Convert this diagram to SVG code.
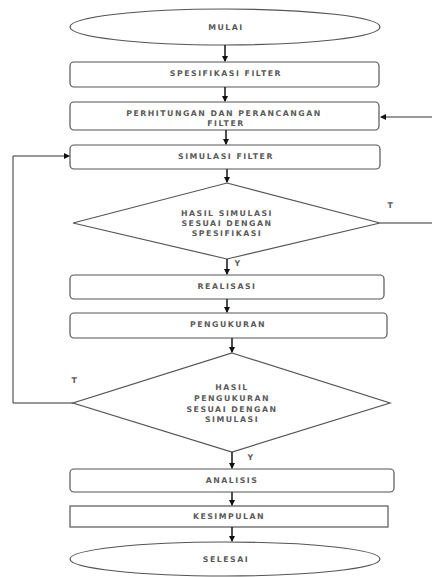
<svg xmlns="http://www.w3.org/2000/svg" width="432" height="577" viewBox="0 0 432 577">
<style>
.s{fill:#fff;stroke:#555;stroke-width:1.2}
.t{font-family:"DejaVu Sans","Liberation Sans",sans-serif;font-size:7.8px;font-weight:bold;fill:#5a5a5a;text-anchor:middle;letter-spacing:1.5px}
.c{fill:none;stroke:#222;stroke-width:1.6}
.cl{fill:none;stroke:#333;stroke-width:1}
</style>
<defs>
<marker id="ah" markerWidth="6" markerHeight="6" refX="5" refY="3" orient="auto" markerUnits="userSpaceOnUse">
<path d="M0,0 L6,3 L0,6 z" fill="#111"/>
</marker>
</defs>
<rect width="432" height="577" fill="#fff"/>
<g id="mulai"><ellipse class="s" cx="225" cy="27" rx="155" ry="18"/><text class="t" x="226" y="30">MULAI</text></g>
<g id="spesifikasi"><rect class="s" x="70" y="62" width="309" height="25" rx="4"/><text class="t" x="226" y="76">SPESIFIKASI FILTER</text></g>
<g id="perhitungan"><rect class="s" x="70" y="102" width="309" height="28" rx="4"/><text class="t" x="224" y="116">PERHITUNGAN DAN PERANCANGAN</text><text class="t" x="226" y="126">FILTER</text></g>
<g id="simulasi"><rect class="s" x="70" y="145" width="310" height="24" rx="4"/><text class="t" x="226" y="159">SIMULASI FILTER</text></g>
<g id="keputusan1"><polygon class="s" points="227,183 380,223 227,259 73,223"/><text class="t" x="227" y="216">HASIL SIMULASI</text><text class="t" x="227" y="226">SESUAI DENGAN</text><text class="t" x="227" y="236">SPESIFIKASI</text></g>
<g id="realisasi"><rect class="s" x="70" y="275" width="314" height="24" rx="4"/><text class="t" x="227" y="289">REALISASI</text></g>
<g id="pengukuran"><rect class="s" x="70" y="313" width="317" height="25" rx="4"/><text class="t" x="228" y="327">PENGUKURAN</text></g>
<g id="keputusan2"><polygon class="s" points="232,353 390,403 232,452 73,403"/><text class="t" x="232" y="390">HASIL</text><text class="t" x="232" y="401">PENGUKURAN</text><text class="t" x="232" y="412">SESUAI DENGAN</text><text class="t" x="232" y="422">SIMULASI</text></g>
<g id="analisis"><rect class="s" x="70" y="469" width="324" height="23" rx="4"/><text class="t" x="232" y="483">ANALISIS</text></g>
<g id="kesimpulan"><rect class="s" x="70" y="506" width="318" height="21"/><text class="t" x="229" y="519">KESIMPULAN</text></g>
<g id="selesai"><ellipse class="s" cx="225" cy="559" rx="155" ry="17"/><text class="t" x="226" y="562">SELESAI</text></g>
<g id="connectors">
<line class="c" x1="225" y1="45" x2="225" y2="61" marker-end="url(#ah)"/>
<line class="c" x1="225" y1="87" x2="225" y2="101" marker-end="url(#ah)"/>
<line class="c" x1="226" y1="130" x2="226" y2="144" marker-end="url(#ah)"/>
<line class="c" x1="227" y1="169" x2="227" y2="182" marker-end="url(#ah)"/>
<line class="c" x1="227" y1="259" x2="227" y2="274" marker-end="url(#ah)"/>
<line class="c" x1="227" y1="299" x2="227" y2="312" marker-end="url(#ah)"/>
<line class="c" x1="232" y1="338" x2="232" y2="352" marker-end="url(#ah)"/>
<line class="c" x1="232" y1="452" x2="232" y2="468" marker-end="url(#ah)"/>
<line class="c" x1="232" y1="492" x2="232" y2="505" marker-end="url(#ah)"/>
<line class="c" x1="232" y1="527" x2="232" y2="541" marker-end="url(#ah)"/>
<polyline class="cl" points="380,223 432,223"/>
<line class="cl" x1="432" y1="117" x2="381" y2="117" marker-end="url(#ah)"/>
<polyline class="cl" points="73,403 13,403 13,156 69,156" marker-end="url(#ah)"/>
<text class="t" x="391" y="208">T</text>
<text class="t" x="238" y="266">Y</text>
<text class="t" x="75" y="383">T</text>
<text class="t" x="251" y="460">Y</text>
</g>
</svg>
